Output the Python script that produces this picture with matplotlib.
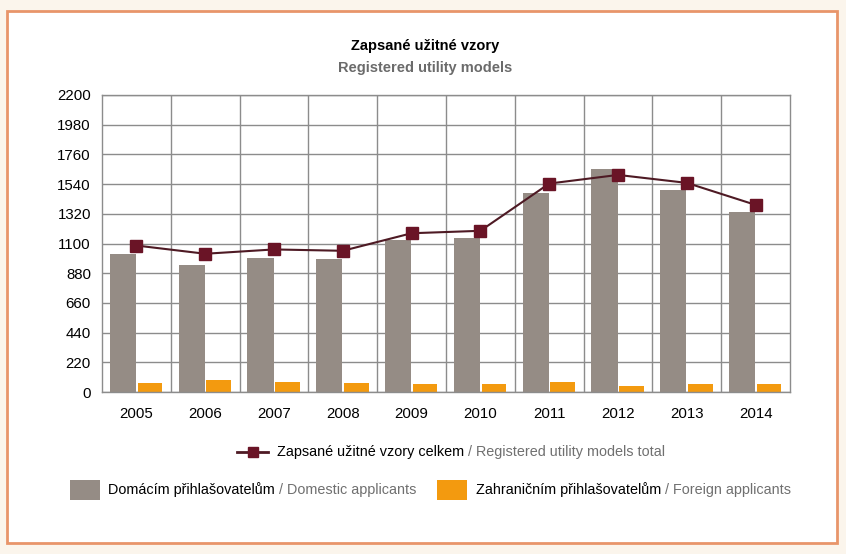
import matplotlib.pyplot as plt
import numpy as np
from matplotlib.lines import Line2D
from matplotlib.patches import Rectangle

years = ['2005', '2006', '2007', '2008', '2009', '2010', '2011', '2012', '2013', '2014']
domestic = [1023, 942, 994, 987, 1127, 1142, 1475, 1650, 1497, 1334]
foreign = [69, 91, 76, 69, 57, 62, 76, 47, 62, 62]
total = [1085, 1024, 1056, 1046, 1176, 1194, 1544, 1608, 1549, 1386]
y_ticks = [0, 220, 440, 660, 880, 1100, 1320, 1540, 1760, 1980, 2200]

GREY = '#958c85'
ORANGE = '#f39a0f'
MAROON = '#6a1426'
LINE = '#4e1a24'
GRID = '#8c8c8c'
FONT = ['Liberation Sans', 'DejaVu Sans']
W, H = 846, 554

fig = plt.figure(figsize=(W / 100, H / 100), dpi=100)
fig.patch.set_facecolor('#fbf5ec')

# white panel with orange border
fig.patches.append(Rectangle((7 / W, 1 - 543 / H), 830 / W, 532 / H,
                             transform=fig.transFigure, facecolor='white',
                             edgecolor='#e8956a', linewidth=2, zorder=-1))

ax = fig.add_axes([102 / W, 1 - 392 / H, 688 / W, 297 / H])
ax.set_zorder(1)
x = np.arange(len(years))
ax.bar(x - 0.196, domestic, width=0.38, color=GREY, zorder=2)
ax.bar(x + 0.196, foreign, width=0.36, color=ORANGE, zorder=2)
ax.plot(x, total, color=LINE, linewidth=1.5, marker='s', markersize=8,
        markerfacecolor=MAROON, markeredgecolor=MAROON, zorder=3)

ax.set_xlim(-0.5, len(years) - 0.5)
ax.set_ylim(0, 2200)
ax.set_yticks(y_ticks)
ax.set_yticklabels([str(v) for v in y_ticks], family=FONT, fontsize=10.8)
ax.set_xticks(x)
ax.set_xticklabels(years, family=FONT, fontsize=10.8)
ax.set_xticks(np.arange(0.5, len(years) - 1, 1), minor=True)
ax.tick_params(axis='y', which='both', length=0, pad=8)
ax.tick_params(axis='x', which='both', length=0, pad=11)
ax.grid(axis='y', which='major', color=GRID, linewidth=1, zorder=1)
ax.grid(axis='x', which='minor', color=GRID, linewidth=1, zorder=1)
for s in ax.spines.values():
    s.set_color(GRID)
    s.set_linewidth(1)
ax.set_axisbelow(True)

# titles
fig.text(425 / W, 1 - 46 / H, 'Zapsané užitné vzory', ha='center', va='center',
         fontsize=10.5, fontweight='bold', family=FONT, color='black')
fig.text(425 / W, 1 - 68 / H, 'Registered utility models', ha='center', va='center',
         fontsize=10.5, fontweight='bold', family=FONT, color='#6b6b6b')

renderer = fig.canvas.get_renderer()


def two_tone(x0, y, dark, light):
    t = fig.text(x0 / W, y, dark, ha='left', va='center', fontsize=10.4,
                 family=FONT, color='black')
    bb = t.get_window_extent(renderer)
    fig.text(bb.x1 / W, y, ' / ' + light, ha='left', va='center', fontsize=10.4,
             family=FONT, color='#707070')


# legend, row 1
y1 = 1 - 452 / H
fig.add_artist(Line2D([237 / W, 268 / W], [y1, y1], transform=fig.transFigure,
                      color=LINE, linewidth=2))
fig.add_artist(Line2D([252.5 / W], [y1], transform=fig.transFigure, marker='s',
                      markersize=7, color=MAROON))
two_tone(277, y1, 'Zapsané užitné vzory celkem', 'Registered utility models total')

# legend, row 2
y2 = 1 - 490 / H
fig.patches.append(Rectangle((70 / W, y2 - 10 / H), 30 / W, 20 / H,
                             transform=fig.transFigure, facecolor=GREY, edgecolor='none'))
two_tone(108, y2, 'Domácím přihlašovatelům', 'Domestic applicants')
fig.patches.append(Rectangle((437 / W, y2 - 10 / H), 30 / W, 20 / H,
                             transform=fig.transFigure, facecolor=ORANGE, edgecolor='none'))
two_tone(476, y2, 'Zahraničním přihlašovatelům', 'Foreign applicants')

fig.savefig('out.png', dpi=100, facecolor=fig.get_facecolor())
